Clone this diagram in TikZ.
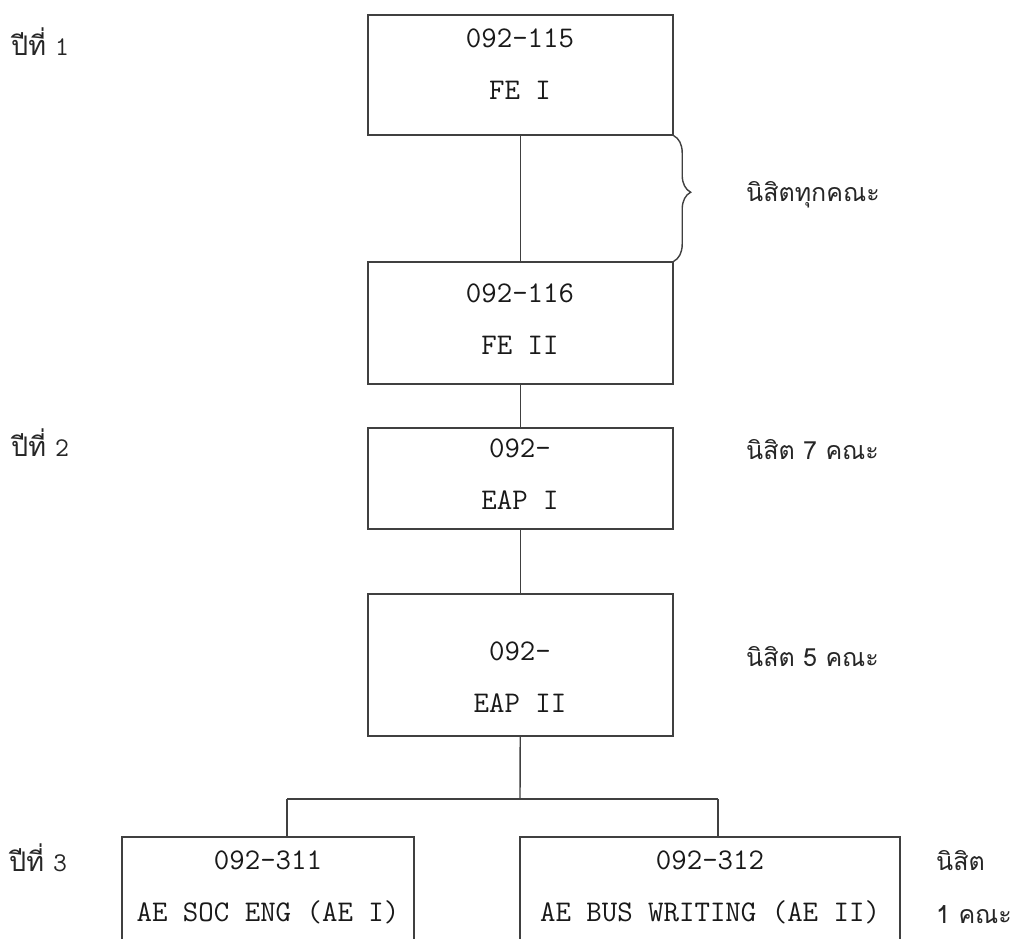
\documentclass[tikz,border=0pt]{standalone}
\usepackage{fontspec}
\usepackage{xcolor}
\newfontfamily\thaifont[Script=Thai]{Loma}
\usetikzlibrary{calc}
\usetikzlibrary{decorations.pathreplacing}

\tikzset{
	coursebox/.style={draw=black!75,line width=1.4pt,inner sep=0pt},
	coursetext/.style={align=center,inner sep=0pt,text=black!90,font=\fontsize{30}{52}\selectfont\ttfamily},
	yeartext/.style={anchor=west,inner sep=0pt,text=black!85,font=\fontsize{27}{34}\selectfont\thaifont},
	facultytext/.style={anchor=west,inner sep=0pt,text=black!85,font=\fontsize{25}{30}\selectfont\thaifont},
	conn/.style={draw=black!75,line width=1.4pt}
}

\begin{document}
\begin{tikzpicture}[x=1pt,y=-1pt]
	\useasboundingbox (0,0) rectangle (1012,938);
	\clip (0,0) rectangle (1012,938);
	% course boxes
	\node[coursebox,minimum width=305,minimum height=120] (fe1) at (520.5,75) {};
	\node[coursebox,minimum width=305,minimum height=122] (fe2) at (520.5,323) {};
	\node[coursebox,minimum width=305,minimum height=101] (eap1) at (520.5,478.5) {};
	\node[coursebox,minimum width=305,minimum height=142] (eap2) at (520.5,665) {};
	\node[coursebox,minimum width=292,minimum height=124] (ae1) at (268,899) {};
	\node[coursebox,minimum width=380,minimum height=124] (ae2) at (710,899) {};
	% texts in the boxes
	\node[coursetext] (fe1t) at (520,64) {092-115\\FE I};
	\node[coursetext] (fe2t) at (520,319) {092-116\\FE II};
	\node[coursetext] (eap1t) at (520,474) {092-\\EAP I};
	\node[coursetext] (eap2t) at (520,677) {092-\\EAP II};
	\node[coursetext] (ae1t) at (268,887) {092-311\\AE SOC ENG (AE I)};
	\node[coursetext] (ae2t) at (710,887) {092-312\\AE BUS WRITING (AE II)};
	% connectors
	\draw[conn] (fe1) -- (fe2);
	\draw[conn] (fe2) -- (eap1);
	\draw[conn] (eap1) -- (eap2);
	\coordinate (split) at (520,799);
	\coordinate (leftdrop) at (287,799);
	\coordinate (rightdrop) at (718,799);
	\draw[conn] (eap2) -- (split);
	\draw[conn] (leftdrop) -- (rightdrop);
	\draw[conn] (leftdrop) -- (leftdrop |- ae1.north);
	\draw[conn] (rightdrop) -- (rightdrop |- ae2.north);
	\draw[conn,decorate,decoration={brace,amplitude=17pt,aspect=0.45}] (fe1.south east) -- (fe2.north east);
	% year labels
	\node[yeartext] (year1) at (11,42) {ปีที่ {\ttfamily 1}};
	\node[yeartext] (year2) at (11,443) {ปีที่ {\ttfamily 2}};
	\node[yeartext] (year3) at (9,858) {ปีที่ {\ttfamily 3}};
	% faculty labels
	\node[facultytext] (facall) at (746,195) {นิสิตทุกคณะ};
	\node[facultytext] (fac7) at (746,450) {นิสิต 7 คณะ};
	\node[facultytext] (fac5) at (746,657) {นิสิต 5 คณะ};
	\node[facultytext] (fac1a) at (936,861) {นิสิต};
	\node[facultytext] (fac1b) at (936,915) {1 คณะ};
\end{tikzpicture}
\end{document}
